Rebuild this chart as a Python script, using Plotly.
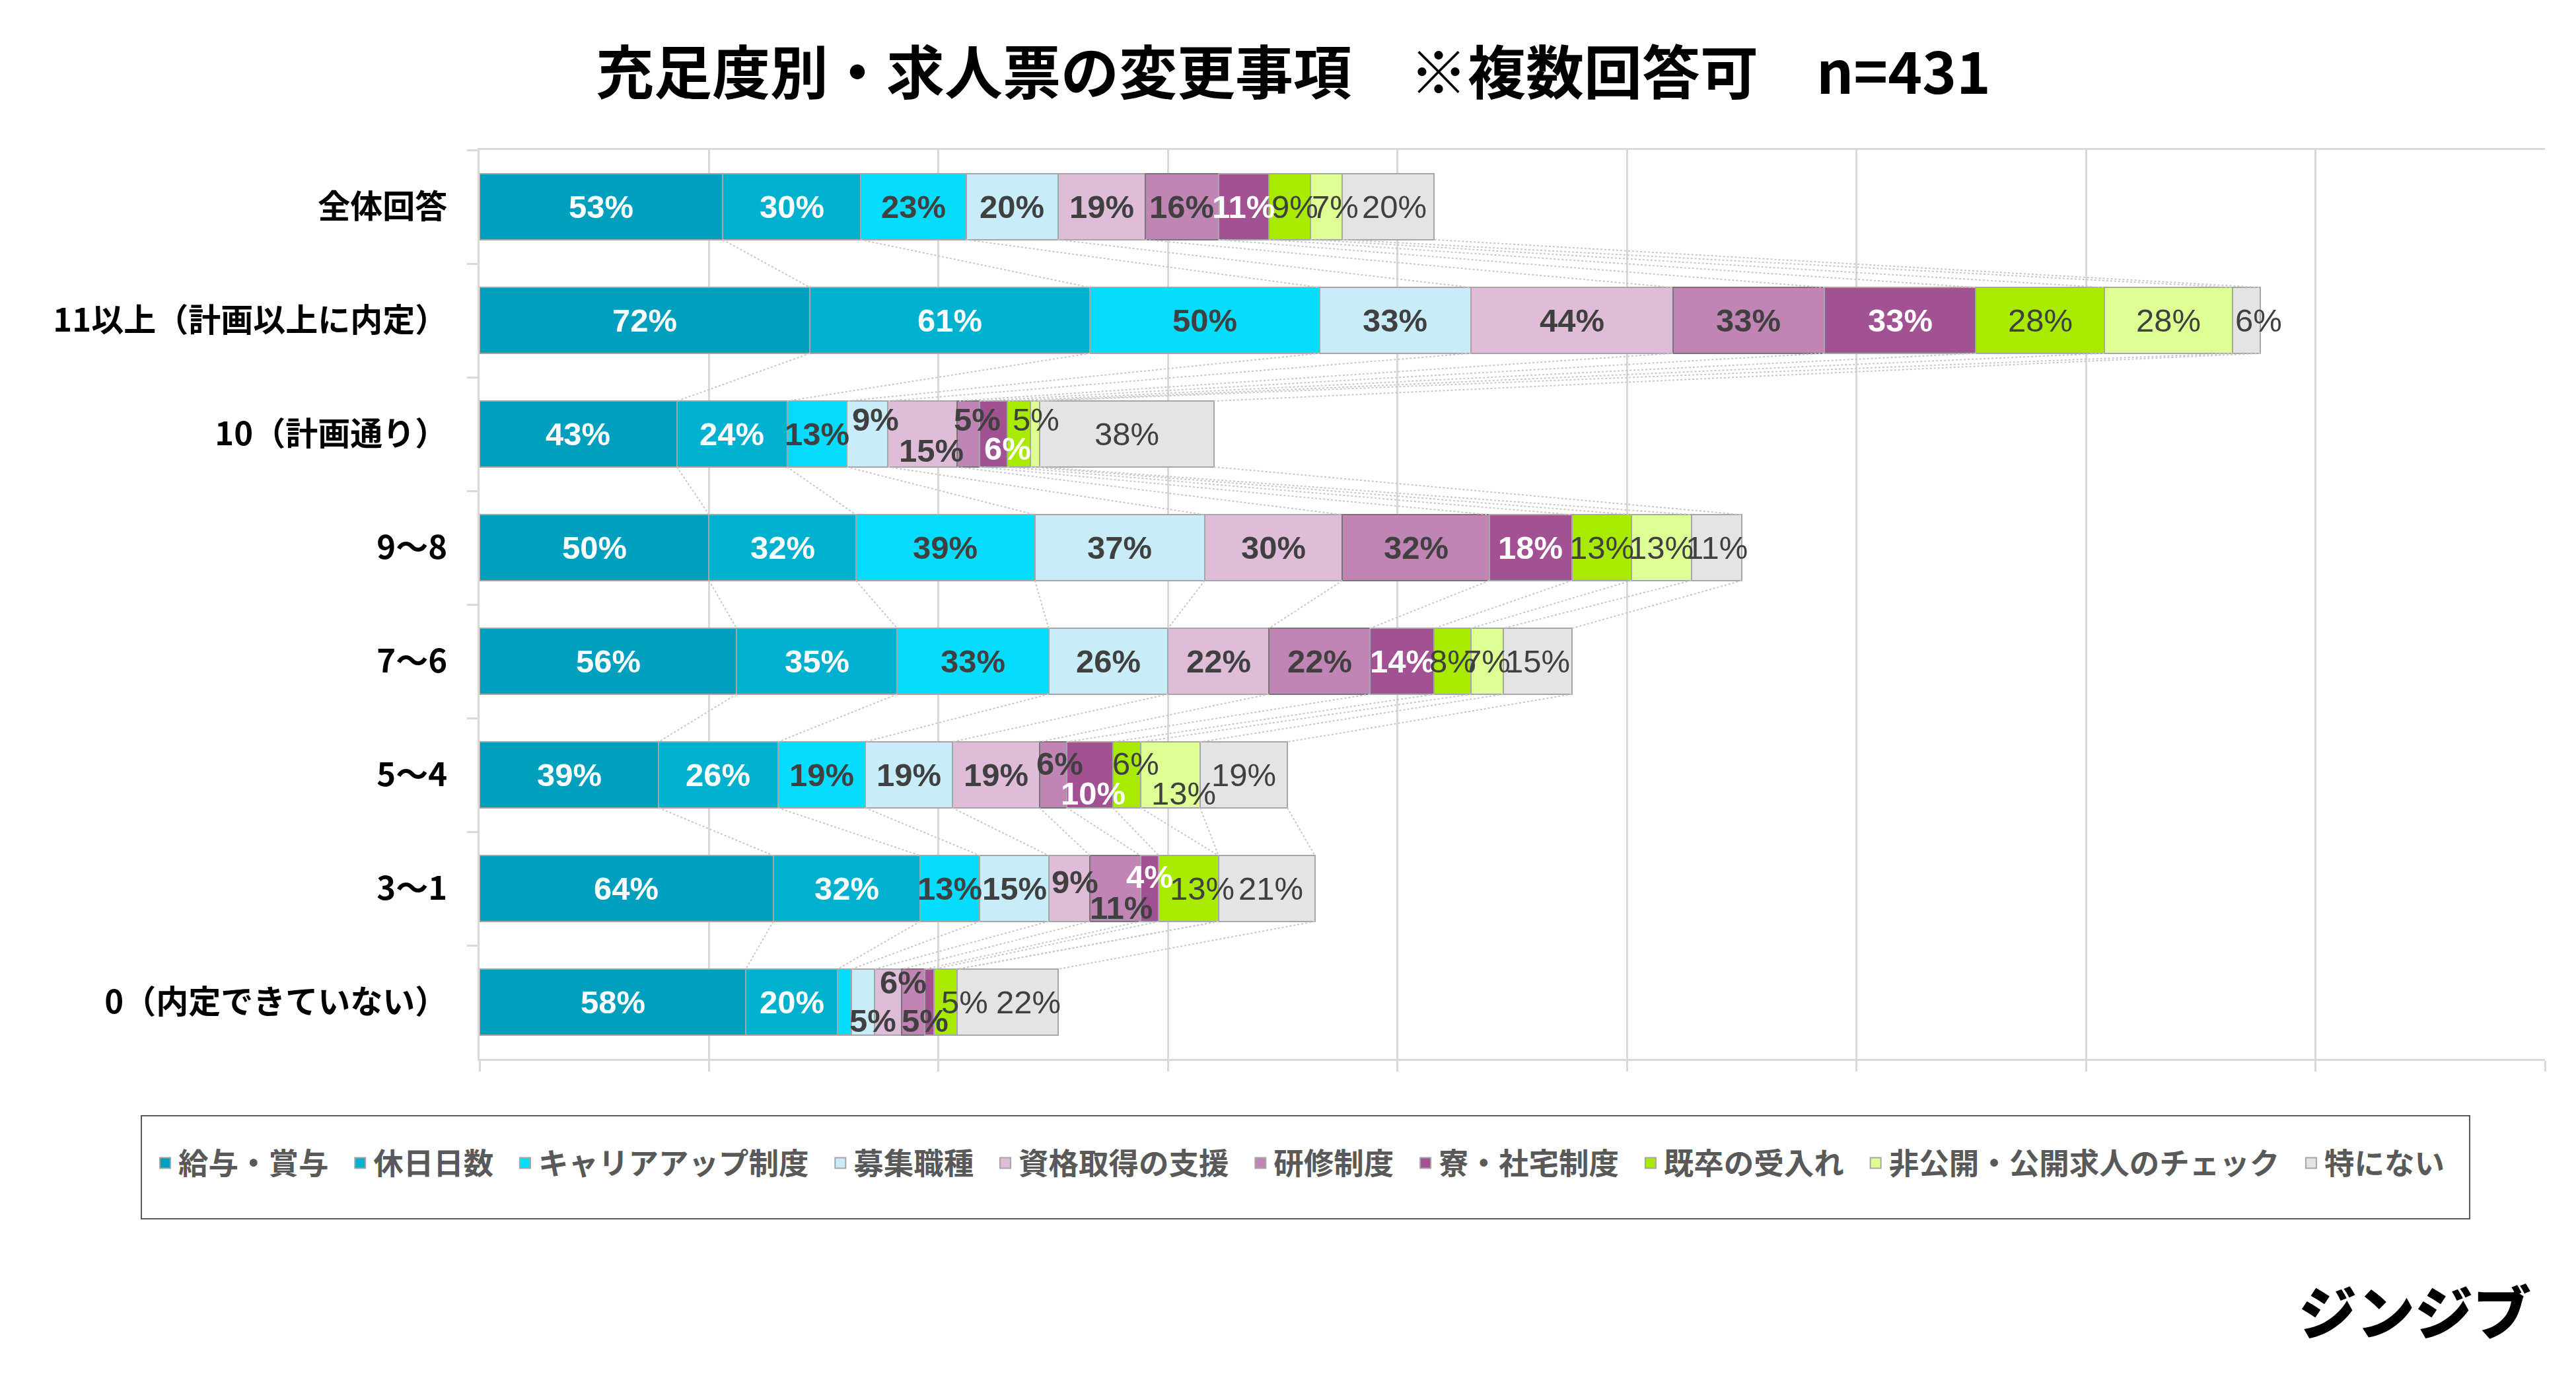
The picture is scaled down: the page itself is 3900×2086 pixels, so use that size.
import plotly.graph_objects as go
import numpy as np

# ---------------- data ----------------
categories = ["全体回答", "11以上（計画以上に内定）", "10（計画通り）", "9～8",
              "7～6", "5～4", "3～1", "0（内定できていない）"]

series_names = ["給与・賞与", "休日日数", "キャリアアップ制度", "募集職種", "資格取得の支援",
                "研修制度", "寮・社宅制度", "既卒の受入れ", "非公開・公開求人のチェック", "特にない"]

salary      = [53, 72, 43, 50, 56, 39, 64, 58]
holidays    = [30, 61, 24, 32, 35, 26, 32, 20]
career_up   = [23, 50, 13, 39, 33, 19, 13, 3]
job_types   = [20, 33, 9, 37, 26, 19, 15, 5]
license_sup = [19, 44, 15, 30, 22, 19, 9, 6]
training    = [16, 33, 5, 32, 22, 6, 11, 5]
dormitory   = [11, 33, 6, 18, 14, 10, 4, 2]
graduates   = [9, 28, 5, 13, 8, 6, 13, 5]
job_check   = [7, 28, 2, 13, 7, 13, 0, 0]
nothing     = [20, 6, 38, 11, 15, 19, 21, 22]

series_values = [salary, holidays, career_up, job_types, license_sup,
                 training, dormitory, graduates, job_check, nothing]

title_text = "充足度別・求人票の変更事項　※複数回答可　n=431"
brand_text = "ジンジブ"

# ---------------- styles ----------------
colors = ["#009FBD", "#00B0CF", "#05DCFE", "#C9ECF9", "#DFBDD8",
          "#C085B4", "#A25192", "#A8EA00", "#DEFF94", "#E4E4E4"]
outline = ["#A6A6A6"] * 10
outline[5] = "#767676"
label_colors = ["#FFFFFF", "#FFFFFF", "#404040", "#404040", "#404040",
                "#404040", "#FFFFFF", "#404040", "#404040", "#404040"]
label_weights = ["bold"] * 7 + ["normal"] * 3

# label offsets in px (dx right, dy down) keyed by (row, series)
label_offsets = {
    (0, 7): (8, 0), (0, 8): (13, 0), (0, 9): (9, 0),
    (1, 9): (18, 0),
    (2, 3): (12, -22), (2, 4): (13, 25), (2, 5): (13, -22), (2, 6): (21, 22), (2, 7): (26, -22),
    (5, 5): (10, -17), (5, 6): (5, 28), (5, 7): (14, -17), (5, 8): (20, 28),
    (6, 4): (9, -10), (6, 5): (9, 29), (6, 6): (0, -18), (6, 7): (20, 0), (6, 9): (6, 0),
    (7, 3): (15, 28), (7, 4): (23, -30), (7, 5): (18, 28), (7, 7): (29, 0), (7, 9): (32, 0),
}
hidden_labels = {(2, 8), (7, 2), (7, 6)}

W, H = 3900, 2086
L, R, T, B = 718, 55, 219, 491
plot_w, plot_h = W - L - R, H - T - B
bargap = 0.42
half = (1 - bargap) / 2

fig = go.Figure()

for i, (name, vals) in enumerate(zip(series_names, series_values)):
    fig.add_trace(go.Bar(
        y=categories, x=vals, orientation="h", name=name,
        marker=dict(color=colors[i], line=dict(color=outline[i], width=2)),
        showlegend=False, hoverinfo="x+name",
    ))
    # legend proxy (trailing en space = gap after the entry)
    fig.add_trace(go.Scatter(
        x=[None], y=[None], mode="markers", name=name + "\u2002",
        marker=dict(symbol="square", size=24, color=colors[i],
                    line=dict(color="#A6A6A6", width=2)),
        showlegend=True,
    ))

vals_arr = np.array(series_values)          # shape (series, rows)
cum_end = np.cumsum(vals_arr, axis=0)       # end position of each segment
cum_start = cum_end - vals_arr

annotations = []
for r in range(len(categories)):
    for i in range(len(series_names)):
        v = vals_arr[i, r]
        if v <= 0 or (r, i) in hidden_labels:
            continue
        dx, dy = label_offsets.get((r, i), (0, 0))
        annotations.append(dict(
            x=float(cum_start[i, r] + v / 2), y=categories[r], xref="x", yref="y",
            text=f"{v}%", showarrow=False, xshift=dx, yshift=-dy,
            font=dict(family="Liberation Sans, Arial", size=49,
                      color=label_colors[i], weight=label_weights[i]),
        ))

# brand logo text
annotations.append(dict(
    x=(3648 - L) / plot_w, y=(H - B - 1973) / plot_h, xref="paper", yref="paper",
    text=brand_text, showarrow=False, xanchor="center", yanchor="middle",
    font=dict(family="Noto Sans CJK JP", size=88, color="#000000", weight=900),
))

shapes = []
# series lines between adjacent bars
for r in range(len(categories) - 1):
    for i in range(len(series_names)):
        shapes.append(dict(
            type="line", xref="x", yref="y",
            x0=float(cum_end[i, r]), y0=r + half,
            x1=float(cum_end[i, r + 1]), y1=r + 1 - half,
            line=dict(color="#C8C8C8", width=2, dash="dot"), layer="above",
        ))

# legend box
lx0, lx1, ly0, ly1 = 206, 3731, 1681, 1837
shapes.append(dict(
    type="rect", xref="paper", yref="paper",
    x0=(lx0 - L) / plot_w, x1=(lx1 - L) / plot_w,
    y0=(H - B - ly1) / plot_h, y1=(H - B - ly0) / plot_h,
    line=dict(color="#595959", width=2), fillcolor="rgba(0,0,0,0)",
))

legend_left = 222

fig.update_layout(
    width=W, height=H,
    margin=dict(l=L, r=R, t=T, b=B),
    paper_bgcolor="#FFFFFF", plot_bgcolor="#FFFFFF",
    barmode="stack", bargap=bargap,
    title=dict(text=title_text, x=0.5, xref="container", xanchor="center",
               y=1 - 103 / H, yref="container", yanchor="middle",
               font=dict(family="Noto Sans CJK JP", size=88, color="#000000", weight="bold")),
    xaxis=dict(range=[0, 450], dtick=50, tick0=0, showticklabels=False,
               showgrid=True, gridcolor="#D9D9D9", gridwidth=2.5,
               ticks="outside", ticklen=16, tickcolor="#D9D9D9", tickwidth=2.5,
               showline=True, linecolor="#D9D9D9", linewidth=3, mirror=True,
               zeroline=False, fixedrange=True),
    yaxis=dict(type="category", autorange="reversed",
               showline=True, linecolor="#D9D9D9", linewidth=3,
               ticks="outside", tickson="boundaries", ticklen=16,
               tickcolor="#D9D9D9", tickwidth=3, ticklabelstandoff=36,
               tickfont=dict(family="Noto Sans CJK JP", size=49, color="#000000", weight="bold"),
               showgrid=False, fixedrange=True),
    legend=dict(orientation="h", traceorder="normal",
                x=(legend_left - L) / plot_w, xanchor="left",
                y=(H - B - (ly0 + ly1) / 2 + 6) / plot_h, yanchor="middle",
                font=dict(family="Noto Sans CJK JP", size=45.5, color="#595959", weight="bold"),
                itemsizing="trace", itemwidth=30, bgcolor="rgba(0,0,0,0)"),
    annotations=annotations,
    shapes=shapes,
)

fig.write_html("out.html")
